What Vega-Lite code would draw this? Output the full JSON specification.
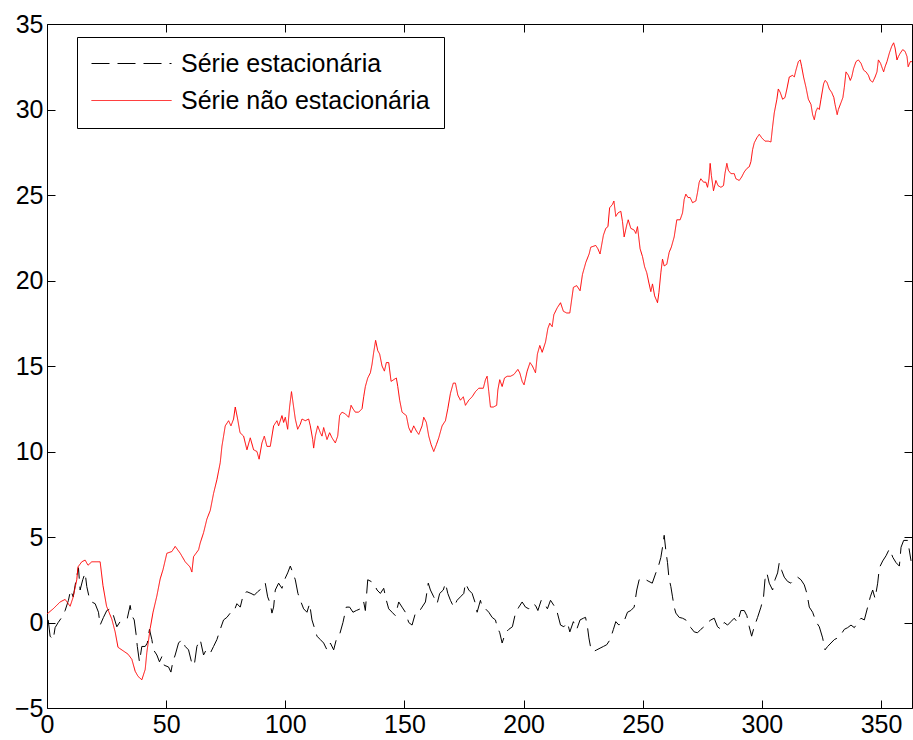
{
"$schema":"https://vega.github.io/schema/vega-lite/v6.json",
"width":865,"height":684,
"autosize":{"type":"none"},
"padding":{"left":47,"top":24,"right":1,"bottom":32},
"background":"white",
"config":{"font":"Liberation Sans","view":{"stroke":null},
 "axis":{"labelFontSize":25,"labelColor":"black","labelFont":"Liberation Sans","tickColor":"black","domainColor":"black","domainWidth":1,"tickWidth":1,"grid":false,"title":null}},
"data":{"values":[
{"x":0.5,"y":0.15,"serie":"Série estacionária"},{"x":1.3,"y":-0.8,"serie":"Série estacionária"},{"x":2.6,"y":-1.0,"serie":"Série estacionária"},{"x":3.4,"y":-0.3,"serie":"Série estacionária"},{"x":4.7,"y":0.0,"serie":"Série estacionária"},{"x":6.2,"y":0.3,"serie":"Série estacionária"},{"x":7.6,"y":0.7,"serie":"Série estacionária"},{"x":9,"y":1.3,"serie":"Série estacionária"},{"x":9.9,"y":1.9,"serie":"Série estacionária"},{"x":11,"y":1.5,"serie":"Série estacionária"},{"x":12.2,"y":2.5,"serie":"Série estacionária"},{"x":13.2,"y":3.2,"serie":"Série estacionária"},{"x":13.9,"y":1.9,"serie":"Série estacionária"},{"x":15,"y":2.5,"serie":"Série estacionária"},{"x":16,"y":2.9,"serie":"Série estacionária"},{"x":16.7,"y":2.1,"serie":"Série estacionária"},{"x":17.8,"y":1.4,"serie":"Série estacionária"},{"x":18.8,"y":1.2,"serie":"Série estacionária"},{"x":20.2,"y":1.1,"serie":"Série estacionária"},{"x":21.6,"y":0.6,"serie":"Série estacionária"},{"x":22.3,"y":-0.15,"serie":"Série estacionária"},{"x":23.7,"y":0.3,"serie":"Série estacionária"},{"x":25.1,"y":0.7,"serie":"Série estacionária"},{"x":26.5,"y":0.8,"serie":"Série estacionária"},{"x":27.9,"y":0.4,"serie":"Série estacionária"},{"x":29.3,"y":-0.25,"serie":"Série estacionária"},{"x":30.7,"y":0.05,"serie":"Série estacionária"},{"x":32.4,"y":0.15,"serie":"Série estacionária"},{"x":33.7,"y":0.25,"serie":"Série estacionária"},{"x":34.9,"y":1.0,"serie":"Série estacionária"},{"x":35.6,"y":0.4,"serie":"Série estacionária"},{"x":36.6,"y":0.15,"serie":"Série estacionária"},{"x":37.4,"y":-0.7,"serie":"Série estacionária"},{"x":37.9,"y":-1.4,"serie":"Série estacionária"},{"x":38.8,"y":-2.3,"serie":"Série estacionária"},{"x":39.8,"y":-1.4,"serie":"Série estacionária"},{"x":41.2,"y":-1.4,"serie":"Série estacionária"},{"x":42.1,"y":-1.2,"serie":"Série estacionária"},{"x":43,"y":-0.4,"serie":"Série estacionária"},{"x":44,"y":-1.0,"serie":"Série estacionária"},{"x":44.7,"y":-1.6,"serie":"Série estacionária"},{"x":46.1,"y":-1.9,"serie":"Série estacionária"},{"x":47.2,"y":-2.3,"serie":"Série estacionária"},{"x":48.2,"y":-2.0,"serie":"Série estacionária"},{"x":49.2,"y":-2.5,"serie":"Série estacionária"},{"x":51,"y":-2.6,"serie":"Série estacionária"},{"x":52,"y":-2.9,"serie":"Série estacionária"},{"x":52.8,"y":-2.3,"serie":"Série estacionária"},{"x":53.8,"y":-1.9,"serie":"Série estacionária"},{"x":55.2,"y":-1.2,"serie":"Série estacionária"},{"x":56.6,"y":-1.0,"serie":"Série estacionária"},{"x":58,"y":-1.4,"serie":"Série estacionária"},{"x":59.4,"y":-1.6,"serie":"Série estacionária"},{"x":60.8,"y":-2.4,"serie":"Série estacionária"},{"x":61.8,"y":-2.5,"serie":"Série estacionária"},{"x":62.9,"y":-1.4,"serie":"Série estacionária"},{"x":64.3,"y":-1.0,"serie":"Série estacionária"},{"x":65.7,"y":-1.9,"serie":"Série estacionária"},{"x":66.8,"y":-1.6,"serie":"Série estacionária"},{"x":68.5,"y":-1.8,"serie":"Série estacionária"},{"x":69.9,"y":-1.4,"serie":"Série estacionária"},{"x":71.3,"y":-1.0,"serie":"Série estacionária"},{"x":72.7,"y":-0.4,"serie":"Série estacionária"},{"x":74.1,"y":0.15,"serie":"Série estacionária"},{"x":75.5,"y":0.3,"serie":"Série estacionária"},{"x":76.9,"y":0.55,"serie":"Série estacionária"},{"x":78.3,"y":0.6,"serie":"Série estacionária"},{"x":79.7,"y":1.1,"serie":"Série estacionária"},{"x":81.1,"y":0.9,"serie":"Série estacionária"},{"x":82.5,"y":1.7,"serie":"Série estacionária"},{"x":83.9,"y":1.8,"serie":"Série estacionária"},{"x":85.6,"y":1.7,"serie":"Série estacionária"},{"x":87,"y":1.6,"serie":"Série estacionária"},{"x":88.4,"y":1.8,"serie":"Série estacionária"},{"x":90.2,"y":2.0,"serie":"Série estacionária"},{"x":91.6,"y":2.3,"serie":"Série estacionária"},{"x":92.6,"y":1.5,"serie":"Série estacionária"},{"x":93.7,"y":1.1,"serie":"Série estacionária"},{"x":94.4,"y":0.55,"serie":"Série estacionária"},{"x":95.1,"y":0.9,"serie":"Série estacionária"},{"x":95.8,"y":1.9,"serie":"Série estacionária"},{"x":97.2,"y":2.3,"serie":"Série estacionária"},{"x":98.6,"y":2.0,"serie":"Série estacionária"},{"x":100,"y":2.6,"serie":"Série estacionária"},{"x":101,"y":2.9,"serie":"Série estacionária"},{"x":102.1,"y":3.3,"serie":"Série estacionária"},{"x":103.2,"y":2.9,"serie":"Série estacionária"},{"x":104.2,"y":2.5,"serie":"Série estacionária"},{"x":105.3,"y":1.7,"serie":"Série estacionária"},{"x":106.3,"y":1.3,"serie":"Série estacionária"},{"x":107.7,"y":0.8,"serie":"Série estacionária"},{"x":109.1,"y":0.6,"serie":"Série estacionária"},{"x":110.2,"y":1.1,"serie":"Série estacionária"},{"x":111.2,"y":0.15,"serie":"Série estacionária"},{"x":112.2,"y":-0.3,"serie":"Série estacionária"},{"x":113.3,"y":-0.8,"serie":"Série estacionária"},{"x":114.7,"y":-1.0,"serie":"Série estacionária"},{"x":116.1,"y":-1.2,"serie":"Série estacionária"},{"x":117.5,"y":-1.6,"serie":"Série estacionária"},{"x":118.9,"y":-1.2,"serie":"Série estacionária"},{"x":120.3,"y":-1.6,"serie":"Série estacionária"},{"x":121.4,"y":-1.0,"serie":"Série estacionária"},{"x":122.8,"y":-0.7,"serie":"Série estacionária"},{"x":124.2,"y":0.0,"serie":"Série estacionária"},{"x":125.6,"y":0.9,"serie":"Série estacionária"},{"x":127,"y":0.9,"serie":"Série estacionária"},{"x":128.4,"y":0.6,"serie":"Série estacionária"},{"x":129.8,"y":0.7,"serie":"Série estacionária"},{"x":131.5,"y":0.8,"serie":"Série estacionária"},{"x":132.9,"y":1.2,"serie":"Série estacionária"},{"x":133.6,"y":0.7,"serie":"Série estacionária"},{"x":134.6,"y":2.5,"serie":"Série estacionária"},{"x":136,"y":2.4,"serie":"Série estacionária"},{"x":137.1,"y":2.3,"serie":"Série estacionária"},{"x":138.5,"y":1.9,"serie":"Série estacionária"},{"x":139.9,"y":1.7,"serie":"Série estacionária"},{"x":141.3,"y":2.0,"serie":"Série estacionária"},{"x":142.4,"y":1.3,"serie":"Série estacionária"},{"x":143.4,"y":0.8,"serie":"Série estacionária"},{"x":144.8,"y":0.6,"serie":"Série estacionária"},{"x":146.2,"y":0.4,"serie":"Série estacionária"},{"x":147.6,"y":1.2,"serie":"Série estacionária"},{"x":149,"y":0.9,"serie":"Série estacionária"},{"x":150.4,"y":0.6,"serie":"Série estacionária"},{"x":151.8,"y":0.0,"serie":"Série estacionária"},{"x":153.2,"y":-0.15,"serie":"Série estacionária"},{"x":154.6,"y":0.55,"serie":"Série estacionária"},{"x":156,"y":0.6,"serie":"Série estacionária"},{"x":157.4,"y":0.9,"serie":"Série estacionária"},{"x":158.8,"y":1.2,"serie":"Série estacionária"},{"x":160,"y":2.3,"serie":"Série estacionária"},{"x":160.9,"y":1.9,"serie":"Série estacionária"},{"x":162.3,"y":1.5,"serie":"Série estacionária"},{"x":163.7,"y":1.1,"serie":"Série estacionária"},{"x":164.8,"y":1.7,"serie":"Série estacionária"},{"x":166.3,"y":1.9,"serie":"Série estacionária"},{"x":167.2,"y":2.3,"serie":"Série estacionária"},{"x":168.2,"y":1.7,"serie":"Série estacionária"},{"x":169.3,"y":1.3,"serie":"Série estacionária"},{"x":170.7,"y":0.9,"serie":"Série estacionária"},{"x":172.1,"y":1.3,"serie":"Série estacionária"},{"x":173.5,"y":1.5,"serie":"Série estacionária"},{"x":174.9,"y":1.7,"serie":"Série estacionária"},{"x":175.6,"y":2.3,"serie":"Série estacionária"},{"x":177,"y":1.9,"serie":"Série estacionária"},{"x":178.4,"y":1.7,"serie":"Série estacionária"},{"x":179.8,"y":1.1,"serie":"Série estacionária"},{"x":180.5,"y":0.6,"serie":"Série estacionária"},{"x":181.9,"y":1.3,"serie":"Série estacionária"},{"x":182.6,"y":0.9,"serie":"Série estacionária"},{"x":184,"y":0.8,"serie":"Série estacionária"},{"x":185.4,"y":0.6,"serie":"Série estacionária"},{"x":186.8,"y":0.3,"serie":"Série estacionária"},{"x":188.2,"y":0.15,"serie":"Série estacionária"},{"x":188.9,"y":-0.25,"serie":"Série estacionária"},{"x":190,"y":-0.6,"serie":"Série estacionária"},{"x":191,"y":-1.2,"serie":"Série estacionária"},{"x":192.4,"y":-0.6,"serie":"Série estacionária"},{"x":193.8,"y":-0.4,"serie":"Série estacionária"},{"x":195.3,"y":-0.25,"serie":"Série estacionária"},{"x":196.6,"y":0.55,"serie":"Série estacionária"},{"x":198,"y":0.9,"serie":"Série estacionária"},{"x":199.4,"y":1.2,"serie":"Série estacionária"},{"x":200.8,"y":0.9,"serie":"Série estacionária"},{"x":202.2,"y":0.8,"serie":"Série estacionária"},{"x":203.7,"y":1.1,"serie":"Série estacionária"},{"x":205,"y":1.0,"serie":"Série estacionária"},{"x":206,"y":0.7,"serie":"Série estacionária"},{"x":207.4,"y":1.3,"serie":"Série estacionária"},{"x":208.8,"y":1.1,"serie":"Série estacionária"},{"x":210,"y":0.8,"serie":"Série estacionária"},{"x":211.3,"y":1.3,"serie":"Série estacionária"},{"x":212.7,"y":1.0,"serie":"Série estacionária"},{"x":214.1,"y":0.6,"serie":"Série estacionária"},{"x":215.5,"y":-0.15,"serie":"Série estacionária"},{"x":216.9,"y":-0.25,"serie":"Série estacionária"},{"x":218.4,"y":0.0,"serie":"Série estacionária"},{"x":219.4,"y":-0.55,"serie":"Série estacionária"},{"x":220.9,"y":0.05,"serie":"Série estacionária"},{"x":222.3,"y":-0.4,"serie":"Série estacionária"},{"x":223.7,"y":0.15,"serie":"Série estacionária"},{"x":225.1,"y":0.25,"serie":"Série estacionária"},{"x":226,"y":0.3,"serie":"Série estacionária"},{"x":226.8,"y":-0.25,"serie":"Série estacionária"},{"x":227.4,"y":-0.9,"serie":"Série estacionária"},{"x":228.2,"y":-1.5,"serie":"Série estacionária"},{"x":229.3,"y":-1.7,"serie":"Série estacionária"},{"x":230.7,"y":-1.6,"serie":"Série estacionária"},{"x":232.1,"y":-1.5,"serie":"Série estacionária"},{"x":233.5,"y":-1.4,"serie":"Série estacionária"},{"x":234.9,"y":-1.3,"serie":"Série estacionária"},{"x":236.3,"y":-1.0,"serie":"Série estacionária"},{"x":237.7,"y":-0.4,"serie":"Série estacionária"},{"x":238.7,"y":0.05,"serie":"Série estacionária"},{"x":240,"y":-0.15,"serie":"Série estacionária"},{"x":241,"y":0.0,"serie":"Série estacionária"},{"x":242.1,"y":0.05,"serie":"Série estacionária"},{"x":243.6,"y":0.6,"serie":"Série estacionária"},{"x":245,"y":0.7,"serie":"Série estacionária"},{"x":246.4,"y":0.9,"serie":"Série estacionária"},{"x":247.5,"y":1.9,"serie":"Série estacionária"},{"x":248.5,"y":2.5,"serie":"Série estacionária"},{"x":249.9,"y":2.6,"serie":"Série estacionária"},{"x":251.3,"y":2.5,"serie":"Série estacionária"},{"x":252.6,"y":2.4,"serie":"Série estacionária"},{"x":254,"y":2.3,"serie":"Série estacionária"},{"x":255.5,"y":2.9,"serie":"Série estacionária"},{"x":256.4,"y":3.2,"serie":"Série estacionária"},{"x":257.6,"y":3.8,"serie":"Série estacionária"},{"x":258.3,"y":4.4,"serie":"Série estacionária"},{"x":259,"y":5.1,"serie":"Série estacionária"},{"x":259.7,"y":4.2,"serie":"Série estacionária"},{"x":260.4,"y":3.5,"serie":"Série estacionária"},{"x":261,"y":2.6,"serie":"Série estacionária"},{"x":261.8,"y":2.1,"serie":"Série estacionária"},{"x":262.5,"y":1.5,"serie":"Série estacionária"},{"x":263.2,"y":0.9,"serie":"Série estacionária"},{"x":263.9,"y":0.55,"serie":"Série estacionária"},{"x":265.3,"y":0.3,"serie":"Série estacionária"},{"x":266.7,"y":0.25,"serie":"Série estacionária"},{"x":268.1,"y":0.15,"serie":"Série estacionária"},{"x":269,"y":-0.15,"serie":"Série estacionária"},{"x":270.2,"y":-0.3,"serie":"Série estacionária"},{"x":271.6,"y":-0.55,"serie":"Série estacionária"},{"x":273,"y":-0.6,"serie":"Série estacionária"},{"x":274.4,"y":-0.4,"serie":"Série estacionária"},{"x":275.7,"y":-0.25,"serie":"Série estacionária"},{"x":277.2,"y":0.0,"serie":"Série estacionária"},{"x":278.6,"y":0.15,"serie":"Série estacionária"},{"x":280,"y":0.25,"serie":"Série estacionária"},{"x":281.4,"y":-0.25,"serie":"Série estacionária"},{"x":282.8,"y":-0.4,"serie":"Série estacionária"},{"x":284.2,"y":0.0,"serie":"Série estacionária"},{"x":285.6,"y":-0.15,"serie":"Série estacionária"},{"x":287,"y":0.05,"serie":"Série estacionária"},{"x":288.4,"y":0.25,"serie":"Série estacionária"},{"x":289.8,"y":0.0,"serie":"Série estacionária"},{"x":291.2,"y":0.7,"serie":"Série estacionária"},{"x":292.6,"y":0.7,"serie":"Série estacionária"},{"x":293.7,"y":0.4,"serie":"Série estacionária"},{"x":294.7,"y":-0.25,"serie":"Série estacionária"},{"x":295.7,"y":-0.8,"serie":"Série estacionária"},{"x":296.8,"y":-0.25,"serie":"Série estacionária"},{"x":298.2,"y":0.3,"serie":"Série estacionária"},{"x":299.6,"y":0.9,"serie":"Série estacionária"},{"x":300.7,"y":1.5,"serie":"Série estacionária"},{"x":301.3,"y":2.5,"serie":"Série estacionária"},{"x":302.1,"y":2.9,"serie":"Série estacionária"},{"x":303.1,"y":2.3,"serie":"Série estacionária"},{"x":304.5,"y":1.9,"serie":"Série estacionária"},{"x":305.5,"y":2.5,"serie":"Série estacionária"},{"x":306.6,"y":2.9,"serie":"Série estacionária"},{"x":307.3,"y":3.5,"serie":"Série estacionária"},{"x":308.3,"y":3.05,"serie":"Série estacionária"},{"x":309.4,"y":2.65,"serie":"Série estacionária"},{"x":310.8,"y":2.4,"serie":"Série estacionária"},{"x":312.2,"y":2.3,"serie":"Série estacionária"},{"x":313.6,"y":2.5,"serie":"Série estacionária"},{"x":315,"y":2.65,"serie":"Série estacionária"},{"x":316.4,"y":2.5,"serie":"Série estacionária"},{"x":317.8,"y":2.2,"serie":"Série estacionária"},{"x":318.9,"y":1.7,"serie":"Série estacionária"},{"x":319.9,"y":0.9,"serie":"Série estacionária"},{"x":321.3,"y":0.6,"serie":"Série estacionária"},{"x":322.7,"y":0.05,"serie":"Série estacionária"},{"x":324.1,"y":-0.25,"serie":"Série estacionária"},{"x":325.5,"y":-0.9,"serie":"Série estacionária"},{"x":326.5,"y":-1.6,"serie":"Série estacionária"},{"x":327.6,"y":-1.4,"serie":"Série estacionária"},{"x":329,"y":-1.2,"serie":"Série estacionária"},{"x":330.4,"y":-1.0,"serie":"Série estacionária"},{"x":331.8,"y":-0.9,"serie":"Série estacionária"},{"x":333.2,"y":-0.7,"serie":"Série estacionária"},{"x":334.6,"y":-0.4,"serie":"Série estacionária"},{"x":336,"y":-0.3,"serie":"Série estacionária"},{"x":337.4,"y":-0.15,"serie":"Série estacionária"},{"x":338.8,"y":-0.3,"serie":"Série estacionária"},{"x":340.2,"y":0.0,"serie":"Série estacionária"},{"x":341.6,"y":0.25,"serie":"Série estacionária"},{"x":343,"y":0.15,"serie":"Série estacionária"},{"x":344.4,"y":0.9,"serie":"Série estacionária"},{"x":345.5,"y":1.5,"serie":"Série estacionária"},{"x":346.5,"y":1.9,"serie":"Série estacionária"},{"x":347.5,"y":1.4,"serie":"Série estacionária"},{"x":348.6,"y":2.3,"serie":"Série estacionária"},{"x":349.3,"y":3.2,"serie":"Série estacionária"},{"x":350.7,"y":3.6,"serie":"Série estacionária"},{"x":352.1,"y":3.9,"serie":"Série estacionária"},{"x":353.5,"y":4.3,"serie":"Série estacionária"},{"x":355,"y":3.8,"serie":"Série estacionária"},{"x":356.3,"y":3.5,"serie":"Série estacionária"},{"x":357.7,"y":3.3,"serie":"Série estacionária"},{"x":358.4,"y":4.4,"serie":"Série estacionária"},{"x":359.5,"y":4.8,"serie":"Série estacionária"},{"x":361.2,"y":4.8,"serie":"Série estacionária"},{"x":362.6,"y":3.6,"serie":"Série estacionária"},
{"x":0,"y":0.5,"serie":"Série não estacionária"},{"x":2.6,"y":0.8,"serie":"Série não estacionária"},{"x":5.5,"y":1.2,"serie":"Série não estacionária"},{"x":7.6,"y":1.35,"serie":"Série não estacionária"},{"x":9.7,"y":0.95,"serie":"Série não estacionária"},{"x":10.9,"y":1.45,"serie":"Série não estacionária"},{"x":12.5,"y":2.5,"serie":"Série não estacionária"},{"x":13,"y":3.25,"serie":"Série não estacionária"},{"x":14.6,"y":3.55,"serie":"Série não estacionária"},{"x":16,"y":3.65,"serie":"Série não estacionária"},{"x":17.2,"y":3.35,"serie":"Série não estacionária"},{"x":18.8,"y":3.55,"serie":"Série não estacionária"},{"x":20.9,"y":3.55,"serie":"Série não estacionária"},{"x":22.3,"y":3.55,"serie":"Série não estacionária"},{"x":23.5,"y":2.15,"serie":"Série não estacionária"},{"x":25,"y":0.95,"serie":"Série não estacionária"},{"x":27.2,"y":0.2,"serie":"Série não estacionária"},{"x":28.6,"y":-0.55,"serie":"Série não estacionária"},{"x":29.8,"y":-1.45,"serie":"Série não estacionária"},{"x":31.9,"y":-1.65,"serie":"Série não estacionária"},{"x":34,"y":-1.85,"serie":"Série não estacionária"},{"x":35.6,"y":-2.15,"serie":"Série não estacionária"},{"x":37,"y":-2.85,"serie":"Série não estacionária"},{"x":38.2,"y":-3.15,"serie":"Série não estacionária"},{"x":39.8,"y":-3.35,"serie":"Série não estacionária"},{"x":41.2,"y":-2.75,"serie":"Série não estacionária"},{"x":41.9,"y":-1.75,"serie":"Série não estacionária"},{"x":43.3,"y":-0.35,"serie":"Série não estacionária"},{"x":44.5,"y":0.6,"serie":"Série não estacionária"},{"x":46.1,"y":1.55,"serie":"Série não estacionária"},{"x":47.5,"y":2.55,"serie":"Série não estacionária"},{"x":48.7,"y":3.1,"serie":"Série não estacionária"},{"x":50.3,"y":4.05,"serie":"Série não estacionária"},{"x":52.4,"y":4.15,"serie":"Série não estacionária"},{"x":53.8,"y":4.45,"serie":"Série não estacionária"},{"x":55.9,"y":4.05,"serie":"Série não estacionária"},{"x":58,"y":3.55,"serie":"Série não estacionária"},{"x":60,"y":3.25,"serie":"Série não estacionária"},{"x":60.8,"y":2.95,"serie":"Série não estacionária"},{"x":61.5,"y":3.85,"serie":"Série não estacionária"},{"x":63.6,"y":4.25,"serie":"Série não estacionária"},{"x":64.3,"y":4.65,"serie":"Série não estacionária"},{"x":65.7,"y":5.25,"serie":"Série não estacionária"},{"x":67.1,"y":6.05,"serie":"Série não estacionária"},{"x":68.5,"y":6.55,"serie":"Série não estacionária"},{"x":69.9,"y":7.55,"serie":"Série não estacionária"},{"x":71.3,"y":8.35,"serie":"Série não estacionária"},{"x":72.7,"y":9.35,"serie":"Série não estacionária"},{"x":73.4,"y":10.3,"serie":"Série não estacionária"},{"x":74.8,"y":11.5,"serie":"Série não estacionária"},{"x":76.2,"y":11.8,"serie":"Série não estacionária"},{"x":77.2,"y":11.5,"serie":"Série não estacionária"},{"x":78.3,"y":11.9,"serie":"Série não estacionária"},{"x":79,"y":12.6,"serie":"Série não estacionária"},{"x":80,"y":11.9,"serie":"Série não estacionária"},{"x":81,"y":11.1,"serie":"Série não estacionária"},{"x":82.5,"y":10.9,"serie":"Série não estacionária"},{"x":83.9,"y":10.1,"serie":"Série não estacionária"},{"x":85.3,"y":10.8,"serie":"Série não estacionária"},{"x":86.7,"y":10.1,"serie":"Série não estacionária"},{"x":88.1,"y":10.0,"serie":"Série não estacionária"},{"x":89,"y":9.55,"serie":"Série não estacionária"},{"x":90.2,"y":10.5,"serie":"Série não estacionária"},{"x":91.2,"y":10.9,"serie":"Série não estacionária"},{"x":92.3,"y":10.3,"serie":"Série não estacionária"},{"x":93.7,"y":10.3,"serie":"Série não estacionária"},{"x":95.1,"y":11.5,"serie":"Série não estacionária"},{"x":96.5,"y":11.8,"serie":"Série não estacionária"},{"x":97.2,"y":11.5,"serie":"Série não estacionária"},{"x":98.6,"y":12.1,"serie":"Série não estacionária"},{"x":99.3,"y":11.7,"serie":"Série não estacionária"},{"x":100,"y":12.0,"serie":"Série não estacionária"},{"x":101,"y":11.3,"serie":"Série não estacionária"},{"x":101.8,"y":12.6,"serie":"Série não estacionária"},{"x":102.6,"y":13.5,"serie":"Série não estacionária"},{"x":103.2,"y":12.9,"serie":"Série não estacionária"},{"x":104.2,"y":11.9,"serie":"Série não estacionária"},{"x":105.2,"y":11.3,"serie":"Série não estacionária"},{"x":106.3,"y":11.6,"serie":"Série não estacionária"},{"x":107,"y":11.9,"serie":"Série não estacionária"},{"x":108.4,"y":11.8,"serie":"Série não estacionária"},{"x":109.8,"y":11.9,"serie":"Série não estacionária"},{"x":110.5,"y":11.5,"serie":"Série não estacionária"},{"x":111.5,"y":10.7,"serie":"Série não estacionária"},{"x":111.9,"y":10.2,"serie":"Série não estacionária"},{"x":112.6,"y":10.9,"serie":"Série não estacionária"},{"x":113.6,"y":11.5,"serie":"Série não estacionária"},{"x":114.7,"y":11.1,"serie":"Série não estacionária"},{"x":115.4,"y":10.9,"serie":"Série não estacionária"},{"x":116.1,"y":11.4,"serie":"Série não estacionária"},{"x":117.5,"y":10.7,"serie":"Série não estacionária"},{"x":118.6,"y":11.1,"serie":"Série não estacionária"},{"x":119.6,"y":10.8,"serie":"Série não estacionária"},{"x":121,"y":10.5,"serie":"Série não estacionária"},{"x":122,"y":10.9,"serie":"Série não estacionária"},{"x":122.8,"y":12.1,"serie":"Série não estacionária"},{"x":123.8,"y":12.3,"serie":"Série não estacionária"},{"x":125.2,"y":12.2,"serie":"Série não estacionária"},{"x":126.6,"y":12.0,"serie":"Série não estacionária"},{"x":127.6,"y":12.7,"serie":"Série não estacionária"},{"x":128.4,"y":12.5,"serie":"Série não estacionária"},{"x":129.4,"y":12.3,"serie":"Série não estacionária"},{"x":130.8,"y":12.3,"serie":"Série não estacionária"},{"x":132.2,"y":12.5,"serie":"Série não estacionária"},{"x":132.9,"y":13.2,"serie":"Série não estacionária"},{"x":133.6,"y":13.8,"serie":"Série não estacionária"},{"x":134.6,"y":14.3,"serie":"Série não estacionária"},{"x":135.7,"y":14.6,"serie":"Série não estacionária"},{"x":136.4,"y":15.1,"serie":"Série não estacionária"},{"x":137.1,"y":15.8,"serie":"Série não estacionária"},{"x":137.9,"y":16.5,"serie":"Série não estacionária"},{"x":138.8,"y":15.9,"serie":"Série não estacionária"},{"x":139.6,"y":15.7,"serie":"Série não estacionária"},{"x":140.6,"y":15.0,"serie":"Série não estacionária"},{"x":141.6,"y":14.7,"serie":"Série não estacionária"},{"x":142.4,"y":15.2,"serie":"Série não estacionária"},{"x":143.4,"y":15.2,"serie":"Série não estacionária"},{"x":144.4,"y":14.1,"serie":"Série não estacionária"},{"x":145.5,"y":14.2,"serie":"Série não estacionária"},{"x":146.6,"y":14.3,"serie":"Série não estacionária"},{"x":147.2,"y":13.8,"serie":"Série não estacionária"},{"x":148,"y":13.0,"serie":"Série não estacionária"},{"x":149,"y":12.3,"serie":"Série não estacionária"},{"x":150.8,"y":12.1,"serie":"Série não estacionária"},{"x":151.8,"y":11.4,"serie":"Série não estacionária"},{"x":152.8,"y":11.1,"serie":"Série não estacionária"},{"x":153.9,"y":11.5,"serie":"Série não estacionária"},{"x":155,"y":11.2,"serie":"Série não estacionária"},{"x":156,"y":11.0,"serie":"Série não estacionária"},{"x":157.4,"y":11.5,"serie":"Série não estacionária"},{"x":158.1,"y":12.0,"serie":"Série não estacionária"},{"x":159.2,"y":11.7,"serie":"Série não estacionária"},{"x":160.2,"y":10.9,"serie":"Série não estacionária"},{"x":161.2,"y":10.4,"serie":"Série não estacionária"},{"x":162.3,"y":10.0,"serie":"Série não estacionária"},{"x":163.4,"y":10.4,"serie":"Série não estacionária"},{"x":164.4,"y":10.8,"serie":"Série não estacionária"},{"x":165.8,"y":11.5,"serie":"Série não estacionária"},{"x":167.2,"y":11.8,"serie":"Série não estacionária"},{"x":168.2,"y":12.5,"serie":"Série não estacionária"},{"x":169.3,"y":13.4,"serie":"Série não estacionária"},{"x":170.5,"y":14.0,"serie":"Série não estacionária"},{"x":171.4,"y":14.0,"serie":"Série não estacionária"},{"x":172.4,"y":13.3,"serie":"Série não estacionária"},{"x":173.5,"y":13.0,"serie":"Série não estacionária"},{"x":174.7,"y":13.2,"serie":"Série não estacionária"},{"x":175.6,"y":12.7,"serie":"Série não estacionária"},{"x":177,"y":13.0,"serie":"Série não estacionária"},{"x":178.4,"y":13.2,"serie":"Série não estacionária"},{"x":179.8,"y":13.5,"serie":"Série não estacionária"},{"x":181.2,"y":13.7,"serie":"Série não estacionária"},{"x":183.1,"y":13.7,"serie":"Série não estacionária"},{"x":184,"y":14.2,"serie":"Série não estacionária"},{"x":184.7,"y":14.4,"serie":"Série não estacionária"},{"x":185.4,"y":13.5,"serie":"Série não estacionária"},{"x":186.1,"y":12.6,"serie":"Série não estacionária"},{"x":187.3,"y":12.6,"serie":"Série não estacionária"},{"x":188.7,"y":12.7,"serie":"Série não estacionária"},{"x":189.2,"y":13.6,"serie":"Série não estacionária"},{"x":190,"y":14.2,"serie":"Série não estacionária"},{"x":191,"y":13.8,"serie":"Série não estacionária"},{"x":192,"y":14.3,"serie":"Série não estacionária"},{"x":193.1,"y":14.4,"serie":"Série não estacionária"},{"x":194.5,"y":14.4,"serie":"Série não estacionária"},{"x":195.9,"y":14.5,"serie":"Série não estacionária"},{"x":197.6,"y":14.8,"serie":"Série não estacionária"},{"x":198.4,"y":14.6,"serie":"Série não estacionária"},{"x":199.4,"y":14.1,"serie":"Série não estacionária"},{"x":200.2,"y":13.9,"serie":"Série não estacionária"},{"x":201.5,"y":14.7,"serie":"Série não estacionária"},{"x":202.7,"y":15.2,"serie":"Série não estacionária"},{"x":203.7,"y":15.0,"serie":"Série não estacionária"},{"x":205,"y":14.6,"serie":"Série não estacionária"},{"x":205.8,"y":15.7,"serie":"Série não estacionária"},{"x":206.8,"y":16.2,"serie":"Série não estacionária"},{"x":207.8,"y":15.8,"serie":"Série não estacionária"},{"x":209.2,"y":16.4,"serie":"Série não estacionária"},{"x":210.2,"y":17.2,"serie":"Série não estacionária"},{"x":211,"y":17.5,"serie":"Série não estacionária"},{"x":212,"y":17.3,"serie":"Série não estacionária"},{"x":212.7,"y":18.0,"serie":"Série não estacionária"},{"x":214.1,"y":18.4,"serie":"Série não estacionária"},{"x":215.5,"y":18.7,"serie":"Série não estacionária"},{"x":216.7,"y":18.2,"serie":"Série não estacionária"},{"x":218.1,"y":18.1,"serie":"Série não estacionária"},{"x":219.4,"y":18.1,"serie":"Série não estacionária"},{"x":220,"y":18.7,"serie":"Série não estacionária"},{"x":220.9,"y":19.6,"serie":"Série não estacionária"},{"x":222.3,"y":19.7,"serie":"Série não estacionária"},{"x":223.7,"y":19.4,"serie":"Série não estacionária"},{"x":224.7,"y":20.35,"serie":"Série não estacionária"},{"x":226.1,"y":21.05,"serie":"Série não estacionária"},{"x":227.5,"y":21.55,"serie":"Série não estacionária"},{"x":228.2,"y":21.95,"serie":"Série não estacionária"},{"x":230.3,"y":22.05,"serie":"Série não estacionária"},{"x":231.2,"y":21.85,"serie":"Série não estacionária"},{"x":232.1,"y":21.55,"serie":"Série não estacionária"},{"x":232.6,"y":21.95,"serie":"Série não estacionária"},{"x":233.5,"y":22.65,"serie":"Série não estacionária"},{"x":234.5,"y":23.05,"serie":"Série não estacionária"},{"x":235.4,"y":23.15,"serie":"Série não estacionária"},{"x":236.1,"y":24.25,"serie":"Série não estacionária"},{"x":237.3,"y":24.45,"serie":"Série não estacionária"},{"x":237.9,"y":24.65,"serie":"Série não estacionária"},{"x":238.7,"y":23.75,"serie":"Série não estacionária"},{"x":239.6,"y":23.95,"serie":"Série não estacionária"},{"x":240.8,"y":24.05,"serie":"Série não estacionária"},{"x":241.5,"y":23.45,"serie":"Série não estacionária"},{"x":242.2,"y":22.55,"serie":"Série não estacionária"},{"x":243.3,"y":23.25,"serie":"Série não estacionária"},{"x":243.9,"y":23.55,"serie":"Série não estacionária"},{"x":245,"y":23.05,"serie":"Série não estacionária"},{"x":246.4,"y":22.95,"serie":"Série não estacionária"},{"x":247.1,"y":22.75,"serie":"Série não estacionária"},{"x":247.8,"y":23.15,"serie":"Série não estacionária"},{"x":248.9,"y":21.85,"serie":"Série não estacionária"},{"x":249.9,"y":21.4,"serie":"Série não estacionária"},{"x":250.8,"y":20.8,"serie":"Série não estacionária"},{"x":251.7,"y":20.45,"serie":"Série não estacionária"},{"x":252.6,"y":19.85,"serie":"Série não estacionária"},{"x":253.4,"y":19.35,"serie":"Série não estacionária"},{"x":254.1,"y":19.8,"serie":"Série não estacionária"},{"x":255,"y":19.1,"serie":"Série não estacionária"},{"x":256.2,"y":18.7,"serie":"Série não estacionária"},{"x":256.8,"y":19.3,"serie":"Série não estacionária"},{"x":257.6,"y":20.45,"serie":"Série não estacionária"},{"x":258.3,"y":21.25,"serie":"Série não estacionária"},{"x":259,"y":20.85,"serie":"Série não estacionária"},{"x":260.1,"y":20.95,"serie":"Série não estacionária"},{"x":261.1,"y":21.65,"serie":"Série não estacionária"},{"x":262,"y":21.95,"serie":"Série não estacionária"},{"x":263.2,"y":22.55,"serie":"Série não estacionária"},{"x":264.3,"y":23.55,"serie":"Série não estacionária"},{"x":265.7,"y":23.55,"serie":"Série não estacionária"},{"x":266.7,"y":23.95,"serie":"Série não estacionária"},{"x":267.4,"y":24.75,"serie":"Série não estacionária"},{"x":268.1,"y":25.05,"serie":"Série não estacionária"},{"x":269,"y":24.85,"serie":"Série não estacionária"},{"x":269.9,"y":24.85,"serie":"Série não estacionária"},{"x":270.9,"y":24.55,"serie":"Série não estacionária"},{"x":272.3,"y":24.65,"serie":"Série não estacionária"},{"x":273,"y":25.15,"serie":"Série não estacionária"},{"x":273.7,"y":25.75,"serie":"Série não estacionária"},{"x":274.4,"y":25.95,"serie":"Série não estacionária"},{"x":275.5,"y":25.75,"serie":"Série não estacionária"},{"x":276.5,"y":25.75,"serie":"Série não estacionária"},{"x":277.2,"y":25.45,"serie":"Série não estacionária"},{"x":277.8,"y":25.95,"serie":"Série não estacionária"},{"x":278.3,"y":26.85,"serie":"Série não estacionária"},{"x":278.8,"y":26.15,"serie":"Série não estacionária"},{"x":279.7,"y":25.25,"serie":"Série não estacionária"},{"x":280.7,"y":25.85,"serie":"Série não estacionária"},{"x":281.6,"y":25.55,"serie":"Série não estacionária"},{"x":282.8,"y":25.45,"serie":"Série não estacionária"},{"x":283.9,"y":25.55,"serie":"Série não estacionária"},{"x":284.5,"y":26.25,"serie":"Série não estacionária"},{"x":285.3,"y":26.85,"serie":"Série não estacionária"},{"x":285.9,"y":26.45,"serie":"Série não estacionária"},{"x":287,"y":26.25,"serie":"Série não estacionária"},{"x":288.4,"y":26.25,"serie":"Série não estacionária"},{"x":289.1,"y":25.95,"serie":"Série não estacionária"},{"x":290.5,"y":25.85,"serie":"Série não estacionária"},{"x":291.5,"y":26.05,"serie":"Série não estacionária"},{"x":292.6,"y":26.35,"serie":"Série não estacionária"},{"x":293.7,"y":26.55,"serie":"Série não estacionária"},{"x":294.7,"y":26.65,"serie":"Série não estacionária"},{"x":295.4,"y":26.95,"serie":"Série não estacionária"},{"x":296.1,"y":27.65,"serie":"Série não estacionária"},{"x":296.8,"y":28.05,"serie":"Série não estacionária"},{"x":297.9,"y":28.35,"serie":"Série não estacionária"},{"x":298.9,"y":28.55,"serie":"Série não estacionária"},{"x":299.9,"y":28.35,"serie":"Série não estacionária"},{"x":301.3,"y":28.15,"serie":"Série não estacionária"},{"x":302.7,"y":28.15,"serie":"Série não estacionária"},{"x":303.8,"y":28.1,"serie":"Série não estacionária"},{"x":304.5,"y":29.0,"serie":"Série não estacionária"},{"x":305.2,"y":29.8,"serie":"Série não estacionária"},{"x":306.3,"y":30.6,"serie":"Série não estacionária"},{"x":306.9,"y":31.2,"serie":"Série não estacionária"},{"x":307.7,"y":31.0,"serie":"Série não estacionária"},{"x":308.7,"y":30.6,"serie":"Série não estacionária"},{"x":309.7,"y":30.7,"serie":"Série não estacionária"},{"x":310.5,"y":31.2,"serie":"Série não estacionária"},{"x":311.5,"y":31.9,"serie":"Série não estacionária"},{"x":312.9,"y":32.0,"serie":"Série não estacionária"},{"x":313.6,"y":31.9,"serie":"Série não estacionária"},{"x":314.3,"y":32.3,"serie":"Série não estacionária"},{"x":315.3,"y":32.8,"serie":"Série não estacionária"},{"x":316.1,"y":32.9,"serie":"Série não estacionária"},{"x":316.7,"y":32.5,"serie":"Série não estacionária"},{"x":317.5,"y":31.9,"serie":"Série não estacionária"},{"x":318.5,"y":31.3,"serie":"Série não estacionária"},{"x":319.5,"y":30.6,"serie":"Série não estacionária"},{"x":320.6,"y":30.3,"serie":"Série não estacionária"},{"x":321.3,"y":29.7,"serie":"Série não estacionária"},{"x":322,"y":29.4,"serie":"Série não estacionária"},{"x":322.7,"y":29.9,"serie":"Série não estacionária"},{"x":323.4,"y":30.1,"serie":"Série não estacionária"},{"x":324.1,"y":30.0,"serie":"Série não estacionária"},{"x":324.8,"y":30.6,"serie":"Série não estacionária"},{"x":325.9,"y":31.5,"serie":"Série não estacionária"},{"x":326.5,"y":31.7,"serie":"Série não estacionária"},{"x":327.3,"y":31.6,"serie":"Série não estacionária"},{"x":328.3,"y":31.2,"serie":"Série não estacionária"},{"x":329.3,"y":31.0,"serie":"Série não estacionária"},{"x":330.2,"y":30.7,"serie":"Série não estacionária"},{"x":330.7,"y":30.3,"serie":"Série não estacionária"},{"x":331.6,"y":29.7,"serie":"Série não estacionária"},{"x":332.1,"y":30.0,"serie":"Série não estacionária"},{"x":333.2,"y":30.4,"serie":"Série não estacionária"},{"x":334,"y":30.7,"serie":"Série não estacionária"},{"x":334.6,"y":31.3,"serie":"Série não estacionária"},{"x":335.3,"y":32.2,"serie":"Série não estacionária"},{"x":336.3,"y":32.0,"serie":"Série não estacionária"},{"x":337.1,"y":31.7,"serie":"Série não estacionária"},{"x":337.7,"y":31.9,"serie":"Série não estacionária"},{"x":338.5,"y":32.4,"serie":"Série não estacionária"},{"x":339.5,"y":32.8,"serie":"Série não estacionária"},{"x":340.5,"y":32.9,"serie":"Série não estacionária"},{"x":341.6,"y":32.7,"serie":"Série não estacionária"},{"x":342.7,"y":32.3,"serie":"Série não estacionária"},{"x":343.7,"y":32.2,"serie":"Série não estacionária"},{"x":344.7,"y":32.0,"serie":"Série não estacionária"},{"x":345.5,"y":31.7,"serie":"Série não estacionária"},{"x":346.5,"y":31.6,"serie":"Série não estacionária"},{"x":347.5,"y":31.9,"serie":"Série não estacionária"},{"x":348.3,"y":32.2,"serie":"Série não estacionária"},{"x":348.9,"y":32.9,"serie":"Série não estacionária"},{"x":349.8,"y":32.7,"serie":"Série não estacionária"},{"x":350.3,"y":32.5,"serie":"Série não estacionária"},{"x":351.1,"y":32.2,"serie":"Série não estacionária"},{"x":351.7,"y":32.5,"serie":"Série não estacionária"},{"x":352.5,"y":32.8,"serie":"Série não estacionária"},{"x":353.5,"y":33.3,"serie":"Série não estacionária"},{"x":354.5,"y":33.7,"serie":"Série não estacionária"},{"x":355.3,"y":33.9,"serie":"Série não estacionária"},{"x":355.9,"y":33.6,"serie":"Série não estacionária"},{"x":356.7,"y":32.9,"serie":"Série não estacionária"},{"x":357.3,"y":33.1,"serie":"Série não estacionária"},{"x":358.1,"y":33.3,"serie":"Série não estacionária"},{"x":359.1,"y":33.5,"serie":"Série não estacionária"},{"x":360.1,"y":33.4,"serie":"Série não estacionária"},{"x":360.9,"y":33.1,"serie":"Série não estacionária"},{"x":361.4,"y":32.5,"serie":"Série não estacionária"},{"x":362.3,"y":32.8,"serie":"Série não estacionária"},{"x":363.3,"y":32.8,"serie":"Série não estacionária"}
]},
"layer":[
 {"mark":{"type":"line","strokeWidth":1,"clip":true},
  "encoding":{
   "x":{"field":"x","type":"quantitative","scale":{"domain":[0,363],"nice":false,"zero":false},
        "axis":{"orient":"bottom","values":[0,50,100,150,200,250,300,350],"tickSize":-8,"labelPadding":12,"labelFlush":false,"labelOverlap":false}},
   "y":{"field":"y","type":"quantitative","scale":{"domain":[-5,35],"nice":false,"zero":false},
        "axis":{"orient":"left","values":[-5,0,5,10,15,20,25,30,35],"tickSize":-8,"labelPadding":12,"labelFlush":false,"labelOverlap":false}},
   "color":{"field":"serie","type":"nominal","scale":{"domain":["Série estacionária","Série não estacionária"],"range":["black","red"]},
     "legend":{"orient":"none","legendX":30,"legendY":13,"title":null,"strokeColor":"black","fillColor":"white","padding":14,"labelFontSize":25,"labelColor":"black","labelFont":"Liberation Sans","symbolSize":6400,"symbolStrokeWidth":1,"clipHeight":25,"rowPadding":11,"labelOffset":9,"symbolType":"stroke","cornerRadius":0,"labelLimit":400}},
   "strokeDash":{"field":"serie","type":"nominal","scale":{"domain":["Série estacionária","Série não estacionária"],"range":[[18,8],[1,0]]},
     "legend":{"orient":"none","legendX":30,"legendY":13,"title":null,"strokeColor":"black","fillColor":"white","padding":14,"labelFontSize":25,"labelColor":"black","labelFont":"Liberation Sans","symbolSize":6400,"symbolStrokeWidth":1,"clipHeight":25,"rowPadding":11,"labelOffset":9,"symbolType":"stroke","cornerRadius":0,"labelLimit":400}}
  }},
 {"mark":{"type":"line","strokeWidth":1,"strokeOpacity":0},
  "encoding":{
   "x":{"field":"x","type":"quantitative","axis":{"orient":"top","values":[0,50,100,150,200,250,300,350],"tickSize":-8,"labels":false}},
   "y":{"field":"y","type":"quantitative","axis":{"orient":"right","values":[-5,0,5,10,15,20,25,30,35],"tickSize":-8,"labels":false}},
   "detail":{"field":"serie","type":"nominal"}
  }}
],
"resolve":{"axis":{"x":"independent","y":"independent"}}
}
